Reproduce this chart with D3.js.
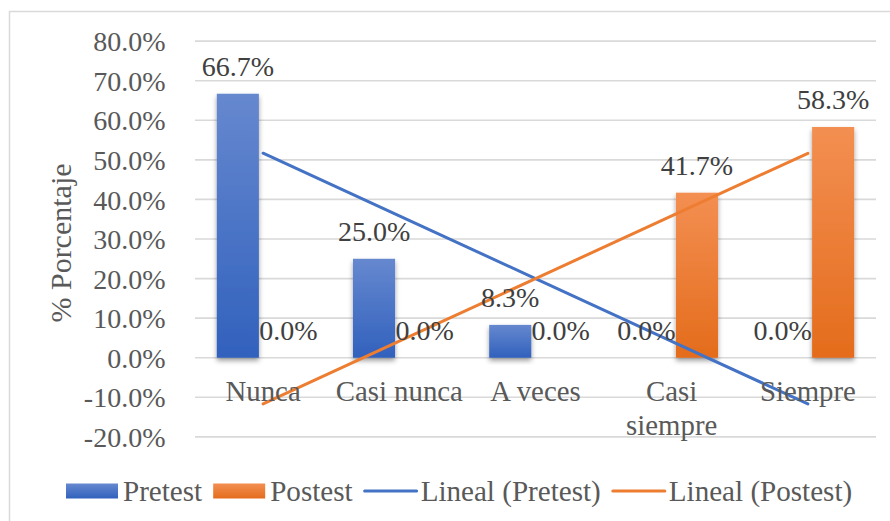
<!DOCTYPE html>
<html>
<head>
<meta charset="utf-8">
<script src="https://cdn.jsdelivr.net/npm/d3@7/dist/d3.min.js"></script>
<style>
  html, body { margin: 0; padding: 0; background: #fff; }
  svg { display: block; font-family: "Times New Roman", "Liberation Serif", serif; }
</style>
</head>
<body>
<svg id="chart" width="890" height="521"></svg>
<script>
// Category labels (lines of each label)
const categories = ["Nunca", "Casi nunca", "A veces", "Casi siempre", "Siempre"];
const categoryLines = [["Nunca"], ["Casi nunca"], ["A veces"], ["Casi", "siempre"], ["Siempre"]];
const series = ["Pretest", "Postest"];
const pretest = [66.7, 25.0, 8.3, 0.0, 0.0];
const postest = [0.0, 0.0, 0.0, 41.7, 58.3];
const yTicks = [-20, -10, 0, 10, 20, 30, 40, 50, 60, 70, 80];
const legendItems = ["Pretest", "Postest", "Lineal (Pretest)", "Lineal (Postest)"];

const colors = {
  Pretest: { top: "#6688cf", bottom: "#3161bd", line: "#4472c4" },
  Postest: { top: "#f38f52", bottom: "#e46c1c", line: "#ed7d31" }
};
const textColor = "#595959";
const tickSize = 28;
const catSize = 28.8;
const legendSize = 29.1;
const titleSize = 30;

const svg = d3.select("#chart");
const defs = svg.append("defs");

// vertical gradients for the bars and legend swatches
series.forEach(s => {
  const g = defs.append("linearGradient").attr("id", "grad-" + s)
    .attr("x1", 0).attr("y1", 0).attr("x2", 0).attr("y2", 1);
  g.append("stop").attr("offset", "0%").attr("stop-color", colors[s].top);
  g.append("stop").attr("offset", "100%").attr("stop-color", colors[s].bottom);
});
const shadow = defs.append("filter").attr("id", "shadow")
  .attr("x", "-30%").attr("y", "-10%").attr("width", "160%").attr("height", "130%");
shadow.append("feDropShadow").attr("dx", 0).attr("dy", 3).attr("stdDeviation", 2.6)
  .attr("flood-color", "#000").attr("flood-opacity", 0.38);

// chart frame
svg.append("rect").attr("x", 9.5).attr("y", 11.5).attr("width", 900).attr("height", 540)
  .attr("fill", "none").attr("stroke", "#d9d9d9").attr("stroke-width", 1.5);

const plot = { left: 195, right: 876 };
const x = d3.scaleBand().domain(categories).range([plot.left, plot.right]).padding(0);
const y = d3.scaleLinear().domain([-20, 80]).range([436.9, 41.1]);
const groupW = x.bandwidth() * 0.68;
const x1 = d3.scaleBand().domain(series).range([-groupW / 2, groupW / 2])
  .paddingInner(1 / 6).paddingOuter(0);
const cx = c => x(c) + x.bandwidth() / 2;

// gridlines
svg.append("g").selectAll("line").data(yTicks).join("line")
  .attr("x1", plot.left).attr("x2", plot.right)
  .attr("y1", d => y(d)).attr("y2", d => y(d))
  .attr("stroke", "#d9d9d9").attr("stroke-width", 1.6);

// y axis tick labels
const fmt = d => d.toFixed(1) + "%";
svg.append("g").selectAll("text").data(yTicks).join("text")
  .attr("x", 165.5).attr("y", d => y(d)).attr("dy", "0.36em")
  .attr("text-anchor", "end").attr("font-size", tickSize).attr("fill", textColor)
  .text(fmt);

// y axis title
svg.append("text")
  .attr("transform", "translate(71,243) rotate(-90)")
  .attr("text-anchor", "middle").attr("font-size", titleSize).attr("fill", textColor)
  .text("% Porcentaje");

// bars
const rows = categories.map((c, i) => ({ c, vals: { Pretest: pretest[i], Postest: postest[i] } }));
const barData = rows.flatMap(r => series.map(s => ({ c: r.c, s, v: r.vals[s] })));
const bx = d => cx(d.c) + x1(d.s);
svg.append("g").selectAll("rect").data(barData.filter(d => d.v > 0)).join("rect")
  .attr("x", bx).attr("width", x1.bandwidth())
  .attr("y", d => y(d.v)).attr("height", d => y(0) - y(d.v))
  .attr("fill", d => "url(#grad-" + d.s + ")")
  .attr("filter", "url(#shadow)");

// linear trend lines (least squares over category index)
function linearFit(vals) {
  const xs = vals.map((_, i) => i + 1);
  const mx = d3.mean(xs), my = d3.mean(vals);
  const slope = d3.sum(xs, (xi, i) => (xi - mx) * (vals[i] - my)) / d3.sum(xs, xi => (xi - mx) ** 2);
  return xs.map(xi => my + slope * (xi - mx));
}
const trends = [
  { s: "Pretest", vals: linearFit(pretest) },
  { s: "Postest", vals: linearFit(postest) }
];
const line = d3.line()
  .x((d, i) => cx(categories[i]))
  .y(d => y(d));
svg.append("g").selectAll("path").data(trends).join("path")
  .attr("d", d => line(d.vals))
  .attr("fill", "none").attr("stroke", d => colors[d.s].line)
  .attr("stroke-width", 3).attr("stroke-linecap", "round");

// data labels
svg.append("g").selectAll("text").data(barData).join("text")
  .attr("x", d => bx(d) + x1.bandwidth() / 2)
  .attr("y", d => y(d.v) - 17.5)
  .attr("text-anchor", "middle").attr("font-size", tickSize).attr("fill", "#404040")
  .text(d => d.v.toFixed(1) + "%");

// category labels
const catG = svg.append("g").selectAll("text").data(categories).join("text")
  .attr("x", d => cx(d))
  .attr("y", 401)
  .attr("text-anchor", "middle").attr("font-size", catSize).attr("fill", textColor);
catG.selectAll("tspan").data((d, i) => categoryLines[i]).join("tspan")
  .attr("x", function () { return this.parentNode.getAttribute("x"); })
  .attr("dy", (d, i) => i === 0 ? 0 : 34)
  .text(d => d);

// legend
const legend = svg.append("g");
let lx = 66;
const ly = 491;
legendItems.forEach((name, i) => {
  const isBar = i < 2;
  const s = series[i % 2];
  if (isBar) {
    legend.append("rect").attr("x", lx).attr("y", ly - 7.5).attr("width", 52).attr("height", 15)
      .attr("fill", "url(#grad-" + s + ")");
  } else {
    legend.append("line").attr("x1", lx + 1).attr("x2", lx + 53).attr("y1", ly).attr("y2", ly)
      .attr("stroke", colors[s].line).attr("stroke-width", 3).attr("stroke-linecap", "round");
  }
  const t = legend.append("text").attr("x", lx + 57).attr("y", ly).attr("dy", "0.35em")
    .attr("font-size", legendSize).attr("fill", textColor).text(name);
  lx = lx + 57 + t.node().getComputedTextLength() + 11;
});
</script>
</body>
</html>
